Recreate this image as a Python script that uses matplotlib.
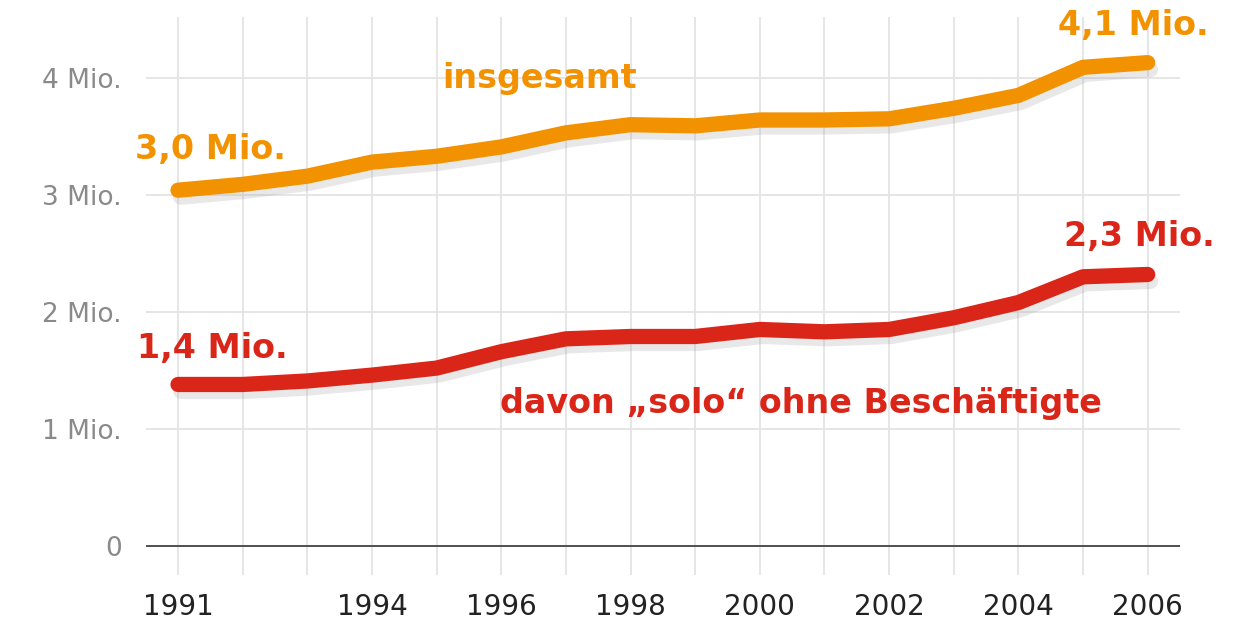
import matplotlib
matplotlib.use("Agg")
import matplotlib.pyplot as plt
import matplotlib.patheffects as pe

# data (Mio.)
years = list(range(1991, 2007))
insgesamt = [3.04, 3.09, 3.16, 3.28, 3.33, 3.41, 3.53, 3.60, 3.59, 3.64,
             3.64, 3.65, 3.74, 3.85, 4.09, 4.13]
solo = [1.38, 1.38, 1.41, 1.46, 1.52, 1.66, 1.77, 1.79, 1.79, 1.85,
        1.83, 1.85, 1.95, 2.08, 2.30, 2.32]
y_ticks = [0, 1, 2, 3, 4]
y_labels = ["0", "1 Mio.", "2 Mio.", "3 Mio.", "4 Mio."]
x_labels = {1991: "1991", 1994: "1994", 1996: "1996", 1998: "1998",
            2000: "2000", 2002: "2002", 2004: "2004", 2006: "2006"}

ORANGE = "#F39200"
RED = "#DA2619"
FONT = "DejaVu Sans"

W, H = 1234, 621
fig = plt.figure(figsize=(W / 100, H / 100), dpi=100)
fig.patch.set_facecolor("white")
left, right, top, bottom = 145.7, 1180, 17, 575
ax = fig.add_axes([left / W, 1 - bottom / H, (right - left) / W, (bottom - top) / H])

ax.set_xlim(1990.5, 2006.5)
ax.set_ylim(-0.248, 4.52)

for s in ax.spines.values():
    s.set_visible(False)

ax.set_xticks(years)
ax.set_xticklabels([x_labels.get(y, "") for y in years], fontsize=20,
                   color="#222222", family=FONT)
ax.set_yticks(y_ticks)
ax.set_yticklabels(y_labels, fontsize=19, color="#8a8a8a", family=FONT)
ax.tick_params(length=0)
ax.tick_params(axis="x", pad=13)
ax.tick_params(axis="y", pad=17)

ax.grid(True, color="#e4e4e4", linewidth=1.3)
ax.set_axisbelow(True)
ax.axhline(0, color="#444444", linewidth=1.3, zorder=1.5)

shadow = [pe.SimpleLineShadow(offset=(2, -5), shadow_color="#999999", alpha=0.22),
          pe.Normal()]
ax.plot(years, insgesamt, color=ORANGE, linewidth=11, solid_capstyle="round",
        solid_joinstyle="round", path_effects=shadow, zorder=3)
ax.plot(years, solo, color=RED, linewidth=11, solid_capstyle="round",
        solid_joinstyle="round", path_effects=shadow, zorder=3)

kw = dict(fontweight="bold", family=FONT, fontsize=24, va="baseline", ha="left")
ax.text(1990.34, 3.31, "3,0 Mio.", color=ORANGE, **kw)
ax.text(1995.08, 3.91, "insgesamt", color=ORANGE, **kw)
ax.text(2004.62, 4.37, "4,1 Mio.", color=ORANGE, clip_on=False, **kw)
ax.text(2004.7, 2.56, "2,3 Mio.", color=RED, clip_on=False, **kw)
ax.text(1990.37, 1.61, "1,4 Mio.", color=RED, **kw)
ax.text(1995.98, 1.14, "davon \u201esolo\u201c ohne Beschäftigte", color=RED, **kw)

fig.savefig("out.png", dpi=100)
